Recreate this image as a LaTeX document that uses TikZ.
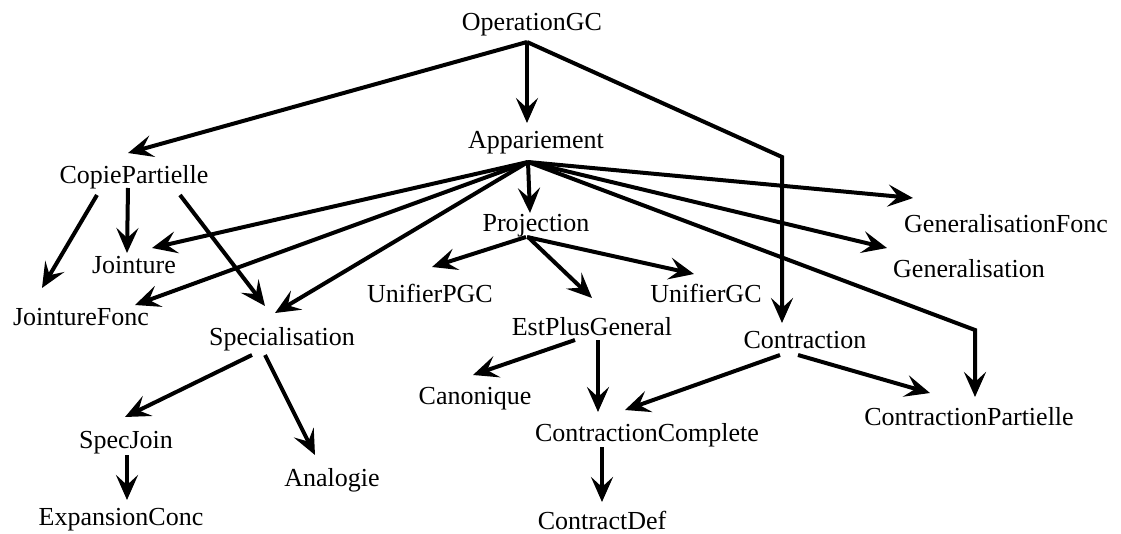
\documentclass[tikz,border=0pt]{standalone}
\usepackage{fontspec}
\setmainfont{Liberation Serif}
\usetikzlibrary{arrows.meta,calc}

\tikzset{
  op/.style={anchor=base, inner sep=0pt, outer sep=0pt, font=\fontsize{26}{31}\selectfont},
  arr/.style={line width=4pt, -{Stealth[length=25pt,width=22pt,inset=10pt]}}
}

\begin{document}
\begin{tikzpicture}[x=1pt,y=-1pt]
	\useasboundingbox (0,0) rectangle (1121,533);
	% operations
	\node[op] (opgc)  at (532,30)  {OperationGC};
	\node[op] (app)   at (536,148) {Appariement};
	\node[op] (copie) at (134,183) {CopiePartielle};
	\node[op] (proj)  at (536,231) {Projection};
	\node[op] (genf)  at (1006,232) {GeneralisationFonc};
	\node[op] (jnt)   at (134,273) {Jointure};
	\node[op] (gen)   at (969,277) {Generalisation};
	\node[op] (upgc)  at (430,302) {UnifierPGC};
	\node[op] (ugc)   at (706,302) {UnifierGC};
	\node[op] (jntf)  at (81,325)  {JointureFonc};
	\node[op] (spec)  at (282,345) {Specialisation};
	\node[op] (epg)   at (592,335) {EstPlusGeneral};
	\node[op] (contr) at (805,348) {Contraction};
	\node[op] (canon) at (475,404) {Canonique};
	\node[op] (cc)    at (647,441) {ContractionComplete};
	\node[op] (cp)    at (969,425) {ContractionPartielle};
	\node[op] (sj)    at (126,448) {SpecJoin};
	\node[op] (ana)   at (332,486) {Analogie};
	\node[op] (exp)   at (121,525) {ExpansionConc};
	\node[op] (cdef)  at (602,529) {ContractDef};
	% OperationGC
	\draw[arr] ($(opgc.base)+(-5,12)$) -- ($(copie.base)+(-6,-30)$);
	\draw[arr] ($(opgc.base)+(-5,12)$) -- ($(app.base)+(-9,-25)$);
	\draw[arr] ($(opgc.base)+(-5,12)$) -- ++(255,115) -- ($(contr.base)+(-23,-25)$);
	% Appariement
	\draw[arr] ($(app.base)+(-8,14)$) -- ($(jnt.base)+(18,-25)$);
	\draw[arr] ($(app.base)+(-8,14)$) -- ($(jntf.base)+(54,-20)$);
	\draw[arr] ($(app.base)+(-8,14)$) -- ($(spec.base)+(-7,-32)$);
	\draw[arr] ($(app.base)+(-8,14)$) -- ($(proj.base)+(-6,-18)$);
	\draw[arr] ($(app.base)+(-8,14)$) -- ($(genf.base)+(-93,-34)$);
	\draw[arr] ($(app.base)+(-8,14)$) -- ($(gen.base)+(-82,-29)$);
	\draw[arr] ($(app.base)+(-8,14)$) -- ++(447,168) -- ($(cp.base)+(6,-28)$);
	% CopiePartielle
	\draw[arr] ($(copie.base)+(-37,12)$) -- ($(jntf.base)+(-39,-37)$);
	\draw[arr] ($(copie.base)+(-6,5)$) -- ($(jnt.base)+(-7,-20)$);
	\draw[arr] ($(copie.base)+(46,12)$) -- ($(spec.base)+(-17,-39)$);
	% Projection
	\draw[arr] ($(proj.base)+(-10,6)$) -- ($(upgc.base)+(2,-35)$);
	\draw[arr] ($(proj.base)+(-8,6)$) -- ($(epg.base)+(0,-37)$);
	\draw[arr] ($(proj.base)+(-9,6)$) -- ($(ugc.base)+(-12,-28)$);
	% EstPlusGeneral, Contraction
	\draw[arr] ($(epg.base)+(-17,5)$) -- ($(canon.base)+(-2,-29)$);
	\draw[arr] ($(epg.base)+(6,5)$) -- ($(cc.base)+(-49,-29)$);
	\draw[arr] ($(contr.base)+(-25,7)$) -- ($(cc.base)+(-22,-31)$);
	\draw[arr] ($(contr.base)+(-7,7)$) -- ($(cp.base)+(-39,-32)$);
	\draw[arr] ($(cc.base)+(-45,6)$) -- ($(cdef.base)+(0,-27)$);
	% Specialisation
	\draw[arr] ($(spec.base)+(-30,10)$) -- ($(sj.base)+(-1,-31)$);
	\draw[arr] ($(spec.base)+(-17,10)$) -- ($(ana.base)+(-17,-31)$);
	\draw[arr] ($(sj.base)+(1,7)$) -- ($(exp.base)+(6,-25)$);
\end{tikzpicture}
\end{document}
